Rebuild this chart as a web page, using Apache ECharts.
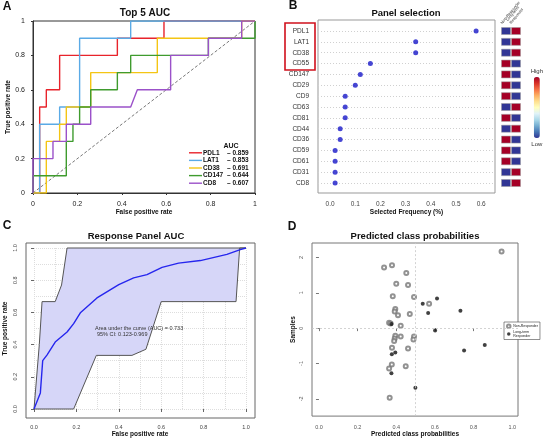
<!DOCTYPE html>
<html>
<head>
<meta charset="utf-8">
<script src="https://cdn.jsdelivr.net/npm/echarts@6/dist/echarts.min.js"></script>
<style>
html, body { margin: 0; padding: 0; background: #fff; }
#main { width: 546px; height: 439px; }
</style>
</head>
<body>
<div id="main"></div>
<script>
// A - ROC steps of the top 5 markers
var rocNames = ['PDL1', 'LAT1', 'CD38', 'CD147', 'CD8'];
var rocAuc = ['0.859', '0.853', '0.691', '0.644', '0.607'];
var rocColors = ['#e8232b', '#5aaae6', '#f4c514', '#3f9b2e', '#9b51c9'];
var rocPDL1 = [[0,0],[0.03,0],[0.03,0.5],[0.06,0.5],[0.06,0.6],[0.12,0.6],[0.12,0.8],[0.38,0.8],[0.38,0.9],[0.59,0.9],[0.59,1],[1,1]];
var rocLAT1 = [[0,0],[0.03,0],[0.03,0.4],[0.12,0.4],[0.12,0.5],[0.21,0.5],[0.21,0.9],[0.44,0.9],[0.44,1],[1,1]];
var rocCD38 = [[0,0],[0.06,0],[0.06,0.3],[0.12,0.3],[0.12,0.4],[0.15,0.4],[0.15,0.5],[0.26,0.5],[0.26,0.7],[0.56,0.7],[0.56,0.9],[0.94,0.9],[0.94,1],[1,1]];
var rocCD147 = [[0,0],[0,0.1],[0.15,0.1],[0.15,0.3],[0.18,0.3],[0.18,0.4],[0.21,0.4],[0.21,0.5],[0.26,0.5],[0.26,0.6],[0.38,0.6],[0.38,0.7],[0.44,0.7],[0.44,0.8],[0.79,0.8],[0.79,0.9],[1,0.9],[1,1]];
var rocCD8 = [[0,0],[0,0.2],[0.09,0.2],[0.09,0.3],[0.15,0.3],[0.15,0.4],[0.26,0.4],[0.26,0.5],[0.44,0.5],[0.47,0.6],[0.62,0.6],[0.62,0.8],[0.79,0.8],[0.79,0.9],[0.94,0.9],[0.94,1],[1,1]];
var diagLine = [[0,0],[1,1]];

// B - selection frequency + expression heat
var selCats = ['PDL1','LAT1','CD38','CD55','CD147','CD29','CD9','CD63','CD81','CD44','CD36','CD59','CD61','CD31','CD8'];
var selFreq = [0.58,0.34,0.34,0.16,0.12,0.10,0.06,0.06,0.06,0.04,0.04,0.02,0.02,0.02,0.02];
var heatCols = ['Non-Responder', 'Long-term\nResponder'];
var heatNonResp = [0,0,0,1,1,1,1,0,1,0,1,1,1,0,0];
var heatLongResp = [1,1,1,0,0,0,0,1,0,1,0,0,0,1,1];

// C - response panel ROC with CI band
var panelFpr = [0,0.03,0.041,0.061,0.1,0.156,0.187,0.22,0.297,0.4,0.47,0.533,0.604,0.682,0.785,0.91,0.973,1];
var panelTpr = [0,0.1,0.3,0.335,0.416,0.478,0.53,0.6,0.69,0.773,0.814,0.835,0.88,0.906,0.922,0.96,0.99,1];
var ciUpper = [[0,0],[0.025,0.4],[0.038,0.667],[0.1,0.667],[0.13,0.77],[0.156,1],[1,1]];
var ciLower = [[0,0],[0.187,0],[0.294,0.333],[0.462,0.333],[0.528,0.371],[0.6,0.667],[0.953,0.667],[0.97,1],[1,1]];

// D - predicted class probabilities
var nonProb = [0.945,0.337,0.378,0.452,0.40,0.461,0.382,0.492,0.570,0.395,0.392,0.409,0.47,0.363,0.371,0.423,0.395,0.392,0.389,0.423,0.492,0.489,0.378,0.461,0.377,0.449,0.363,0.366];
var nonSample = [2.17,1.72,1.78,1.56,1.26,1.22,0.90,0.88,0.69,0.545,0.47,0.366,0.40,0.15,0.13,0.066,-0.216,-0.29,-0.366,-0.235,-0.235,-0.32,-0.554,-0.573,-1.03,-1.08,-1.14,-1.97];
var ltProb = [0.537,0.611,0.565,0.732,0.601,0.858,0.751,0.375,0.377,0.395,0.375,0.499];
var ltSample = [0.69,0.836,0.43,0.49,-0.066,-0.48,-0.63,0.12,-0.74,-0.69,-1.28,-1.69];

var FONT = 'Liberation Sans, Arial, sans-serif';

function zip(xs, ys) {
    return xs.map(function (x, i) { return [x, ys[i]]; });
}

function boldText(x, y, text, size, align) {
    return {
        type: 'text', x: x, y: y, z: 100, silent: true,
        style: { text: text, font: 'bold ' + size + 'px ' + FONT, fill: '#111', align: align || 'center', verticalAlign: 'middle' }
    };
}

var hiddenAxis = function (idx) {
    return { gridIndex: idx, type: 'value', min: 0, max: 1, show: false };
};

var rocData = [rocPDL1, rocLAT1, rocCD38, rocCD147, rocCD8];
var series = [];

series.push({
    name: 'ref', type: 'line', xAxisIndex: 0, yAxisIndex: 0, data: diagLine,
    symbol: 'none', silent: true,
    lineStyle: { color: '#555', width: 0.8, type: [3, 2] }
});
rocNames.forEach(function (n, i) {
    series.push({
        name: n, type: 'line', xAxisIndex: 0, yAxisIndex: 0, data: rocData[i],
        symbol: 'none', color: rocColors[i], lineStyle: { width: 1.4 }
    });
});

series.push({
    name: 'freq', type: 'scatter', xAxisIndex: 2, yAxisIndex: 2,
    data: zip(selFreq, selCats), symbolSize: 5, color: '#1818c8'
});

var heatData = [];
selCats.forEach(function (c, i) {
    heatData.push([heatCols[0], c, heatNonResp[i]]);
    heatData.push([heatCols[1], c, heatLongResp[i]]);
});
series.push({
    name: 'heat', type: 'scatter', xAxisIndex: 3, yAxisIndex: 3,
    data: heatData, symbol: 'rect', symbolSize: [9, 7],
    itemStyle: { borderColor: '#999', borderWidth: 0.5, opacity: 1 }
});
var heatIdx = series.length - 1;

series.push({
    name: 'ci', type: 'custom', xAxisIndex: 5, yAxisIndex: 5, data: [[0, 0]], silent: true,
    renderItem: function (params, api) {
        var pts = ciUpper.concat(ciLower.slice().reverse()).map(function (p) {
            return api.coord(p);
        });
        return {
            type: 'polygon', shape: { points: pts },
            style: { fill: '#d6d6f8', stroke: '#555', lineWidth: 1 }
        };
    }
});
series.push({
    name: 'panel', type: 'line', xAxisIndex: 5, yAxisIndex: 5, data: zip(panelFpr, panelTpr),
    symbol: 'none', color: '#2626ee', lineStyle: { width: 1.4 }
});

series.push({
    name: 'Non-Responder', type: 'scatter', xAxisIndex: 6, yAxisIndex: 6,
    data: zip(nonProb, nonSample), symbol: 'emptyCircle', symbolSize: 4, color: '#777',
    itemStyle: { borderWidth: 0.6 }, clip: false,
    markLine: {
        silent: true, symbol: 'none', label: { show: false },
        lineStyle: { type: [2, 2], color: '#c8c8c8', width: 0.8 },
        data: [{ xAxis: 0.5 }, { yAxis: 0 }]
    }
});
series.push({
    name: 'Long-term\nResponder', type: 'scatter', xAxisIndex: 6, yAxisIndex: 6,
    data: zip(ltProb, ltSample), symbol: 'circle', symbolSize: 4, color: '#111'
});

var tickLab = { fontSize: 7, color: '#222', fontFamily: FONT };
var nameStyle = { fontSize: 6.5, fontWeight: 'bold', color: '#111', fontFamily: FONT };
var fix1 = function (v) { return v.toFixed(1); };

// rotated column headers over the heat cells
var headerText = heatCols.map(function (t, i) {
    return {
        type: 'text', x: 503 + i * 9, y: 25, rotation: 50 * Math.PI / 180, z: 100, silent: true,
        style: { text: t, font: '4px ' + FONT, fill: '#333', align: 'left', verticalAlign: 'bottom', lineHeight: 4.5 }
    };
});

var option = {
    animation: false,
    backgroundColor: '#fff',
    textStyle: { fontFamily: FONT },
    grid: [
        { left: 33, top: 21, width: 222, height: 172, show: true, borderColor: '#333', borderWidth: 1 },
        { left: 318, top: 20, width: 177, height: 173, show: true, borderColor: '#999', borderWidth: 1 },
        { left: 318, top: 31, width: 177, height: 152 },
        { left: 501, top: 31, width: 20, height: 152 },
        { left: 26, top: 243, width: 229, height: 175, show: true, borderColor: '#666', borderWidth: 1 },
        { left: 34, top: 248, width: 212, height: 163 },
        { left: 312, top: 243, width: 206, height: 174, show: true, borderColor: '#777', borderWidth: 1 }
    ],
    xAxis: [
        {
            gridIndex: 0, type: 'value', min: 0, max: 1, interval: 0.2,
            axisLine: { lineStyle: { color: '#333' } }, axisTick: { length: 2 },
            axisLabel: tickLab, splitLine: { show: false },
            name: 'False positive rate', nameLocation: 'middle', nameGap: 14, nameTextStyle: nameStyle
        },
        hiddenAxis(1),
        {
            gridIndex: 2, type: 'value', min: -0.048, max: 0.655, offset: 10,
            axisLine: { show: false }, axisTick: { length: 3, lineStyle: { color: '#666' } },
            axisLabel: { fontSize: 6.5, color: '#444', fontFamily: FONT, formatter: fix1, showMinLabel: false, showMaxLabel: false },
            splitLine: { show: false },
            name: 'Selected Frequency (%)', nameLocation: 'middle', nameGap: 14, nameTextStyle: nameStyle
        },
        {
            gridIndex: 3, type: 'category', data: heatCols, position: 'top',
            axisLine: { show: false }, axisTick: { show: false }, axisLabel: { show: false }
        },
        hiddenAxis(4),
        {
            gridIndex: 5, type: 'value', min: 0, max: 1, interval: 0.2, offset: 7,
            axisLine: { show: false }, axisTick: { length: 3, lineStyle: { color: '#666' } },
            axisLabel: { fontSize: 5.5, color: '#444', fontFamily: FONT, formatter: fix1 },
            splitLine: { show: true, lineStyle: { color: '#ddd', type: [1, 1] } },
            minorTick: { show: false, splitNumber: 2 },
            minorSplitLine: { show: true, lineStyle: { color: '#ddd', type: [1, 1] } },
            name: 'False positive rate', nameLocation: 'middle', nameGap: 15, nameTextStyle: nameStyle
        },
        {
            gridIndex: 6, type: 'value', min: -0.036, max: 1.03, splitNumber: 5,
            axisLine: { show: false }, axisTick: { length: 3, lineStyle: { color: '#777' } },
            axisLabel: { fontSize: 5.5, color: '#555', fontFamily: FONT, formatter: fix1, showMinLabel: false, showMaxLabel: false },
            splitLine: { show: false },
            name: 'Predicted class probabilities', nameLocation: 'middle', nameGap: 14, nameTextStyle: nameStyle
        }
    ],
    yAxis: [
        {
            gridIndex: 0, type: 'value', min: 0, max: 1, interval: 0.2,
            axisLine: { lineStyle: { color: '#333' } }, axisTick: { length: 2 },
            axisLabel: tickLab, splitLine: { show: false },
            name: 'True positive rate', nameLocation: 'middle', nameGap: 20, nameTextStyle: nameStyle
        },
        hiddenAxis(1),
        {
            gridIndex: 2, type: 'category', data: selCats, inverse: true, boundaryGap: false,
            axisLine: { show: false }, axisTick: { show: false },
            axisLabel: { fontSize: 6.5, color: '#333', margin: 9, fontFamily: FONT },
            splitLine: { show: true, lineStyle: { color: '#d0d0d0', type: [1, 2] } }
        },
        {
            gridIndex: 3, type: 'category', data: selCats, inverse: true, boundaryGap: false, show: false
        },
        hiddenAxis(4),
        {
            gridIndex: 5, type: 'value', min: 0, max: 1, interval: 0.2, offset: 8,
            axisLine: { show: false }, axisTick: { length: 3, lineStyle: { color: '#666' } },
            axisLabel: { fontSize: 5.5, color: '#444', fontFamily: FONT, formatter: fix1, rotate: 90 },
            splitLine: { show: true, lineStyle: { color: '#ddd', type: [1, 1] } },
            minorTick: { show: false, splitNumber: 2 },
            minorSplitLine: { show: true, lineStyle: { color: '#ddd', type: [1, 1] } },
            name: 'True positive rate', nameLocation: 'middle', nameGap: 17, nameTextStyle: nameStyle
        },
        {
            gridIndex: 6, type: 'value', min: -2.49, max: 2.41, splitNumber: 5,
            axisLine: { show: false }, axisTick: { length: 3, lineStyle: { color: '#777' } },
            axisLabel: { fontSize: 5.5, color: '#555', fontFamily: FONT, rotate: 90, showMinLabel: false, showMaxLabel: false },
            splitLine: { show: false },
            name: 'Samples', nameLocation: 'middle', nameGap: 14, nameTextStyle: nameStyle
        }
    ],
    legend: [
        {
            data: rocNames, orient: 'vertical', left: 189, top: 149, padding: 0, itemGap: 0,
            icon: 'rect', itemWidth: 13, itemHeight: 1.4, selectedMode: false,
            formatter: function (name) {
                return '{n|' + name + '}{v|\u2013 ' + rocAuc[rocNames.indexOf(name)] + '}';
            },
            textStyle: {
                fontSize: 6.5, fontWeight: 'bold', color: '#111', lineHeight: 7.6, padding: [0, 0, 0, -4],
                rich: {
                    n: { width: 24, fontSize: 6.5, fontWeight: 'bold', lineHeight: 7.6 },
                    v: { fontSize: 6.5, fontWeight: 'bold', lineHeight: 7.6 }
                }
            }
        },
        {
            data: ['Non-Responder', 'Long-term\nResponder'], orient: 'vertical', left: 504, top: 322,
            padding: [1.5, 2], itemGap: 1, itemWidth: 5, itemHeight: 3.5, selectedMode: false,
            borderColor: '#444', borderWidth: 0.6, backgroundColor: '#fff',
            textStyle: { fontSize: 3.5, color: '#222', lineHeight: 4, padding: [0, 0, 0, -3] }
        }
    ],
    visualMap: {
        type: 'continuous', min: 0, max: 1, seriesIndex: heatIdx, dimension: 2,
        calculable: false, orient: 'vertical', right: 3, top: 68, padding: 0,
        itemWidth: 6, itemHeight: 61, text: ['High', 'Low'], textGap: 3,
        textStyle: { fontSize: 6, color: '#333' },
        inRange: { color: ['#313695','#4575b4','#74add1','#abd9e9','#e0f3f8','#ffffbf','#fee090','#fdae61','#f46d43','#d73027','#a50026'] }
    },
    graphic: [
        boldText(7, 7, 'A', 12),
        boldText(293, 6, 'B', 12),
        boldText(7, 226, 'C', 12),
        boldText(292, 227, 'D', 12),
        boldText(145, 13, 'Top 5 AUC', 10),
        boldText(406, 13, 'Panel selection', 9.5),
        boldText(136, 236, 'Response Panel AUC', 9.5),
        boldText(415, 236, 'Predicted class probabilities', 9.5),
        boldText(231, 146, 'AUC', 7),
        {
            type: 'rect', silent: true, z: 100,
            shape: { x: 285, y: 23, width: 30, height: 47 },
            style: { fill: 'none', stroke: '#d0101c', lineWidth: 1.6 }
        },
        {
            type: 'text', x: 95, y: 328, z: 100, silent: true,
            style: { text: 'Area under the curve (AUC) = 0.733', font: '5.5px ' + FONT, fill: '#333', verticalAlign: 'middle' }
        },
        {
            type: 'text', x: 97, y: 334, z: 100, silent: true,
            style: { text: '95% CI: 0.123-0.969', font: '5.5px ' + FONT, fill: '#333', verticalAlign: 'middle' }
        }
    ].concat(headerText),
    series: series
};

var myChart = echarts.init(document.getElementById('main'));
myChart.setOption(option);
</script>
</body>
</html>
